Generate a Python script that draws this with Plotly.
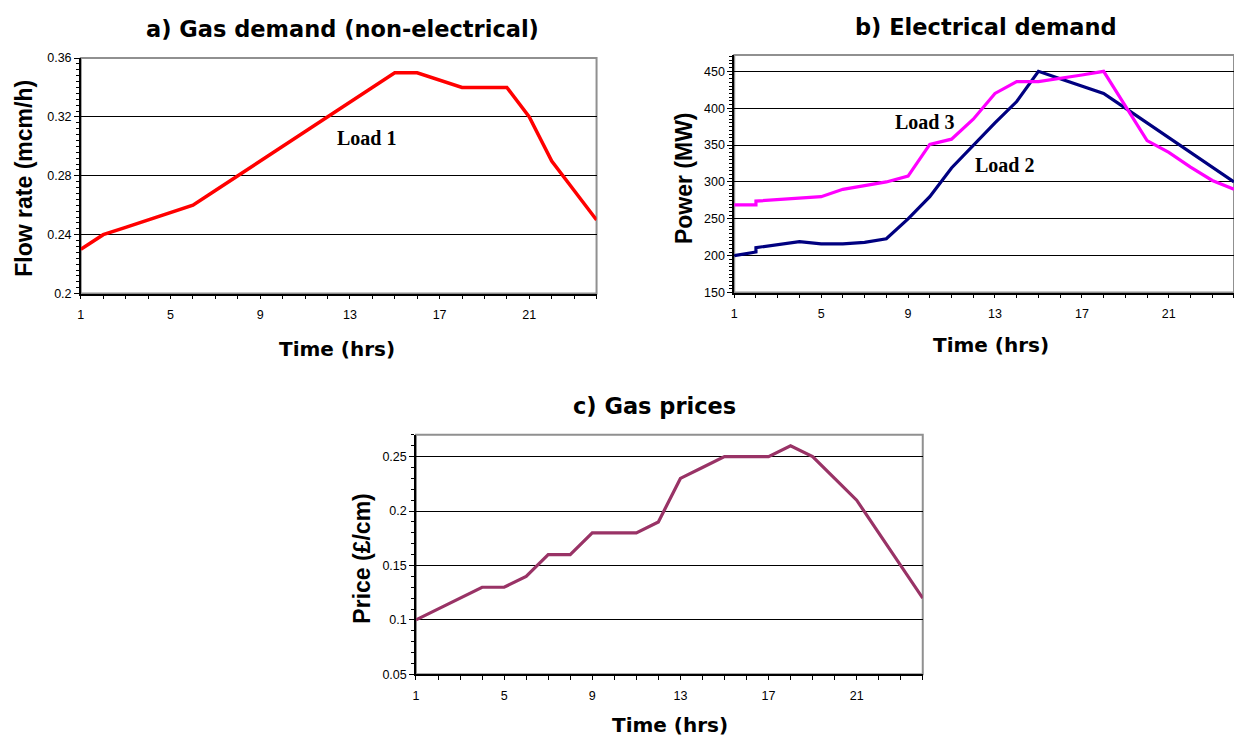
import plotly.graph_objects as go

# ---------------- data ----------------
hours = list(range(1, 25))
load1 = [0.23, 0.24, 0.245, 0.25, 0.255, 0.26, 0.27, 0.28, 0.29, 0.30, 0.31, 0.32,
         0.33, 0.34, 0.35, 0.35, 0.345, 0.34, 0.34, 0.34, 0.32, 0.29, 0.27, 0.25]

# electrical demand: hour 2 carries a small step (two readings)
hours_e = [1, 2, 2] + list(range(3, 25))
load2 = [200, 205, 211, 215, 219, 216, 216, 218, 223, 250, 280, 319, 350, 380, 409,
         450, 440, 430, 420, 400, 380, 360, 340, 320, 300]
load3 = [269, 269, 274, 276, 279, 280, 290, 295, 300, 308, 351, 358, 385, 420, 436,
         436, 440, 445, 450, 404, 356, 340, 320, 302, 290]

price = [0.10, 0.11, 0.12, 0.13, 0.13, 0.14, 0.16, 0.16, 0.18, 0.18, 0.18, 0.19,
         0.23, 0.24, 0.25, 0.25, 0.25, 0.26, 0.25, 0.23, 0.21, 0.18, 0.15, 0.12]

x_ticks = [1, 5, 9, 13, 17, 21]
x_ticktext = ["1", "5", "9", "13", "17", "21"]
ya_ticks = [0.2, 0.24, 0.28, 0.32, 0.36]
ya_text = ["0.2", "0.24", "0.28", "0.32", "0.36"]
yb_ticks = [150, 200, 250, 300, 350, 400, 450]
yb_text = ["150", "200", "250", "300", "350", "400", "450"]
yc_ticks = [0.05, 0.1, 0.15, 0.2, 0.25]
yc_text = ["0.05", "0.1", "0.15", "0.2", "0.25"]

W, H = 1234, 751
SANS = "Liberation Sans, Arial, sans-serif"
WIDE = "DejaVu Sans, Liberation Sans, Arial, sans-serif"
SERIF = "Liberation Serif, Times New Roman, serif"


def px(x):
    return x / W


def py(y):
    return 1 - y / H


fig = go.Figure()

fig.add_trace(go.Scatter(x=hours, y=load1, mode="lines", xaxis="x", yaxis="y",
                         line=dict(color="#FF0000", width=3.5), showlegend=False))
fig.add_trace(go.Scatter(x=hours_e, y=load2, mode="lines", xaxis="x2", yaxis="y2",
                         line=dict(color="#000080", width=3.2), showlegend=False))
fig.add_trace(go.Scatter(x=hours_e, y=load3, mode="lines", xaxis="x2", yaxis="y2",
                         line=dict(color="#FF00FF", width=3.2), showlegend=False))
fig.add_trace(go.Scatter(x=hours, y=price, mode="lines", xaxis="x3", yaxis="y3",
                         line=dict(color="#993366", width=3.2), showlegend=False))

tickfont = dict(family=SANS, size=12.5, color="black")


def xaxis(domain, anchor):
    return dict(domain=domain, anchor=anchor, range=[1, 24], tickmode="array",
                tickvals=x_ticks, ticktext=x_ticktext, showgrid=False,
                zeroline=False, showline=True, linecolor="black", linewidth=1.5,
                ticks="outside", ticklen=4, tickcolor="black", tickwidth=1,
                tickfont=tickfont, ticklabelstandoff=5,
                minor=dict(dtick=1, tick0=1, ticks="outside", ticklen=4,
                           tickcolor="black", showgrid=False))


def yaxis(domain, anchor, rng, tv, tt, minor_dt):
    return dict(domain=domain, anchor=anchor, range=rng, tickmode="array",
                tickvals=tv, ticktext=tt, showgrid=True, gridcolor="black",
                gridwidth=1, zeroline=False, showline=True, linecolor="black",
                linewidth=1.5, ticks="outside", ticklen=5, tickcolor="black",
                tickwidth=1, tickfont=tickfont,
                minor=dict(dtick=minor_dt, tick0=tv[0], ticks="outside", ticklen=3,
                           tickcolor="black", showgrid=False))


layout = dict(
    width=W, height=H, margin=dict(l=0, r=0, t=0, b=0),
    paper_bgcolor="white", plot_bgcolor="white", showlegend=False,
    xaxis=xaxis([px(78), px(595)], "y"),
    yaxis=yaxis([py(292), py(52)], "x", [0.2, 0.36], ya_ticks, ya_text, 0.004),
    xaxis2=xaxis([px(733), 1.0], "y2"),
    yaxis2=yaxis([py(291), py(49)], "x2", [150, 472], yb_ticks, yb_text, 5),
    xaxis3=xaxis([px(414), px(922)], "y3"),
    yaxis3=yaxis([py(680), py(436)], "x3", [0.05, 0.27], yc_ticks, yc_text, 0.01),
)
fig.update_layout(**layout)

# gray plot-area borders
for xr, yr in [("x domain", "y domain"), ("x2 domain", "y2 domain"), ("x3 domain", "y3 domain")]:
    fig.add_shape(type="rect", xref=xr, yref=yr, x0=0, x1=1, y0=0, y1=1,
                  line=dict(color="#909090", width=2), layer="below")

ann = []


def paper_text(text, x, y, size, family, angle=0):
    ann.append(dict(text=text, x=px(x), y=py(y), xref="paper", yref="paper",
                    showarrow=False, xanchor="center", yanchor="middle",
                    textangle=angle, font=dict(family=family, size=size, color="black")))


paper_text("<b>a) Gas demand (non-electrical)</b>", 340, 22, 22.5, WIDE)
paper_text("<b>b) Electrical demand</b>", 985, 20, 22.5, WIDE)
paper_text("<b>c) Gas prices</b>", 653, 407, 22.5, WIDE)
paper_text("<b>Time (hrs)</b>", 335, 348, 20, WIDE)
paper_text("<b>Time (hrs)</b>", 990, 344, 20, WIDE)
paper_text("<b>Time (hrs)</b>", 669, 732, 20, WIDE)
paper_text("<b>Flow rate (mcm/h)</b>", 21, 174, 23, SANS, -90)
paper_text("<b>Power (MW)</b>", 682, 174, 23, SANS, -90)
paper_text("<b>Price (£/cm)</b>", 359, 562, 23, SANS, -90)


def data_text(text, x, y, xr, yr):
    ann.append(dict(text=text, x=x, y=y, xref=xr, yref=yr, showarrow=False,
                    xanchor="center", yanchor="middle",
                    font=dict(family=SERIF, size=20, color="black")))


data_text("<b>Load 1</b>", 13.75, 0.306, "x", "y")
data_text("<b>Load 3</b>", 9.74, 381, "x2", "y2")
data_text("<b>Load 2</b>", 13.45, 323, "x2", "y2")

fig.update_layout(annotations=ann)
fig.write_html("out.html")
